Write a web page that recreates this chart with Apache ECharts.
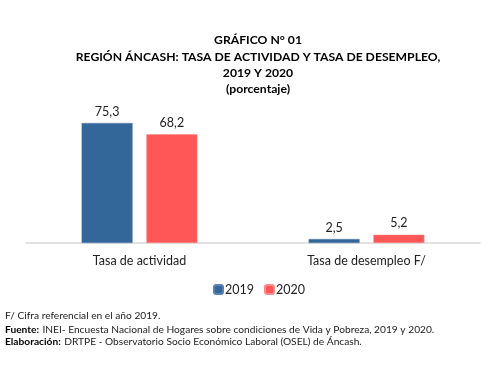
<!DOCTYPE html>
<html><head><meta charset="utf-8">
<script src="https://cdn.jsdelivr.net/npm/echarts@6/dist/echarts.min.js"></script>
<style>html,body{margin:0;padding:0;background:#fff}#c{width:490px;height:367px}</style>
</head><body><div id="c"></div>
<script>
const categories = ['Tasa de actividad', 'Tasa de desempleo F/'];
const seriesNames = ['2019', '2020'];
const values2019 = [75.3, 2.5];
const values2020 = [68.2, 5.2];
const titleLines = ['GRÁFICO N° 01', 'REGIÓN ÁNCASH: TASA DE ACTIVIDAD Y TASA DE DESEMPLEO,', '2019 Y 2020', '(porcentaje)'];
const notes = ['F/ Cifra referencial en el año 2019.'];

const font = 'Lato';
const chart = echarts.init(document.getElementById('c'));
const fmt = p => p.value.toFixed(1).replace('.', ',');
chart.setOption({
  animation: false,
  title: {
    text: titleLines.join('\n'),
    left: 253, top: 27, textAlign: 'center',
    textStyle: { fontFamily: font, fontSize: 12.2, fontWeight: 'bold', color: '#000', lineHeight: 16.4 }
  },
  legend: {
    data: seriesNames, left: 213, top: 283, padding: 0, itemWidth: 9, itemHeight: 9, itemGap: 10,
    textStyle: { fontFamily: font, fontSize: 12.5, color: '#222', padding: [0,0,0,-3] }
  },
  grid: { left: 26, right: 10, top: 115.5, bottom: 124 },
  xAxis: {
    type: 'category', data: categories,
    axisLine: { lineStyle: { color: '#d9d9d9', width: 1.5 } },
    axisTick: { show: false },
    axisLabel: { fontFamily: font, fontSize: 12.5, color: '#222', margin: 11 }
  },
  yAxis: { type: 'value', min: 0, max: 80, show: false, splitLine: { show: false } },
  series: [
    { name: seriesNames[0], type: 'bar', data: values2019, barWidth: 51, barGap: '27%',
      itemStyle: { color: '#336699', borderColor: '#5a83b3', borderWidth: 0.5 },
      label: { show: true, position: 'top', formatter: fmt, fontFamily: font, fontSize: 12.5, color: '#222', distance: 5 } },
    { name: seriesNames[1], type: 'bar', data: values2020, barWidth: 51,
      itemStyle: { color: '#ff5757', borderColor: '#ff8a8a', borderWidth: 0.5 },
      label: { show: true, position: 'top', formatter: fmt, fontFamily: font, fontSize: 12.5, color: '#222', distance: 5 } }
  ],
  graphic: [
    { type: 'text', left: 5, top: 311, style: { text: notes[0], font: '10.2px ' + font, fill: '#222' } },
    { type: 'text', left: 5, top: 324, style: {
        rich: { b: { fontFamily: font, fontSize: 10.2, fontWeight: 'bold', fill: '#000' }, n: { fontFamily: font, fontSize: 10.2, fill: '#222' } },
        text: '{b|Fuente:} {n|INEI- Encuesta Nacional de Hogares sobre condiciones de Vida y Pobreza, 2019 y 2020.}' } },
    { type: 'text', left: 5, top: 336, style: {
        rich: { b: { fontFamily: font, fontSize: 10.2, fontWeight: 'bold', fill: '#000' }, n: { fontFamily: font, fontSize: 10.2, fill: '#222' } },
        text: '{b|Elaboración:} {n|DRTPE - Observatorio Socio Económico Laboral (OSEL) de Áncash.}' } }
  ]
});
</script></body></html>
